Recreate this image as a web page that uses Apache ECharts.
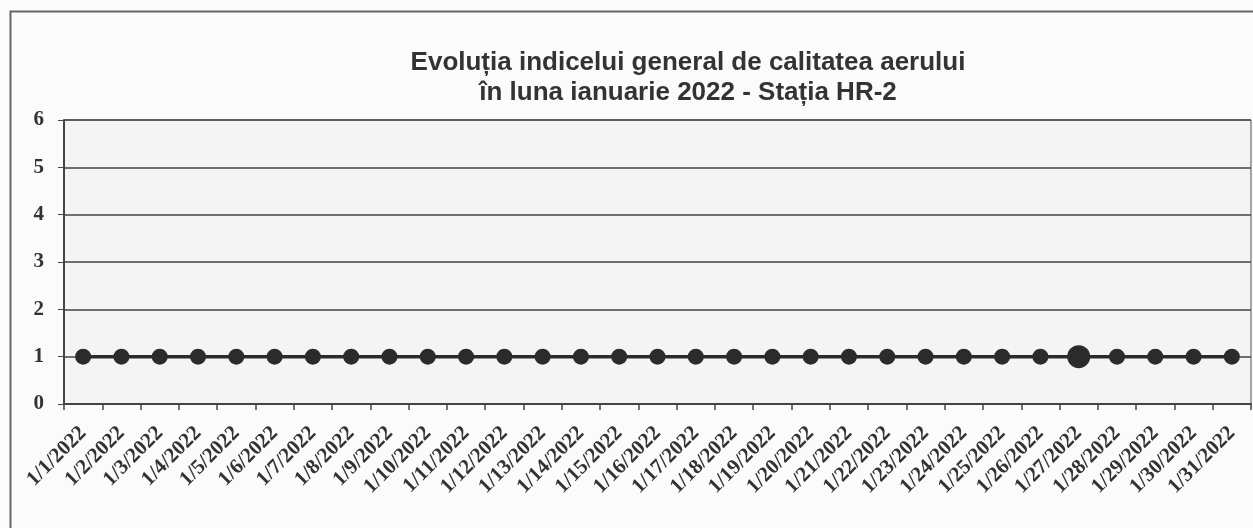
<!DOCTYPE html>
<html><head><meta charset="utf-8">
<script src="https://cdn.jsdelivr.net/npm/echarts@6/dist/echarts.min.js"></script>
<style>html,body{margin:0;padding:0;background:#fbfbfb;}#c{width:1253px;height:528px;}</style>
</head><body><div id="c"></div>
<script>
const titleLines = ['Evoluția indicelui general de calitatea aerului', 'în luna ianuarie 2022 - Stația HR-2'];
const categories = [];
for (let d = 1; d <= 31; d++) categories.push('1/' + d + '/2022');
const values = [1,1,1,1,1,1,1,1,1,1,1,1,1,1,1,1,1,1,1,1,1,1,1,1,1,1,1,1,1,1,1];
const bigPointIndex = 26; // 1/27/2022 marker drawn larger
const yTicks = [0,1,2,3,4,5,6];

const chart = echarts.init(document.getElementById('c'));
chart.setOption({
  backgroundColor: '#fbfbfb',
  animation: false,
  title: {
    text: titleLines.join('\n'),
    left: 688, top: 48, textAlign: 'center', padding: 0,
    textStyle: {fontFamily: 'Liberation Sans, Arial', fontWeight: 'bold', fontSize: 26, color: '#333', lineHeight: 30}
  },
  graphic: [{
    type: 'rect', left: 8, top: 9, z: -1,
    shape: {width: 1270, height: 540},
    style: {fill: 'none', stroke: '#666', lineWidth: 2}
  }],
  grid: {left: 64, right: 2, top: 120, bottom: 124, show: true, backgroundColor: '#f4f4f4', borderColor: '#555', borderWidth: 1},
  xAxis: {
    type: 'category', data: categories, boundaryGap: true,
    axisLine: {lineStyle: {color: '#444', width: 2}},
    axisTick: {show: true, length: 6, lineStyle: {color: '#444', width: 1.5}},
    axisLabel: {rotate: 45, interval: 0, margin: 26, fontFamily: 'Liberation Serif, Times New Roman', fontWeight: 'bold', fontSize: 21, color: '#333'}
  },
  yAxis: {
    type: 'value', min: 0, max: 6, interval: 1,
    axisLine: {show: true, lineStyle: {color: '#444', width: 2}},
    axisTick: {show: true, length: 6, lineStyle: {color: '#444'}},
    splitLine: {lineStyle: {color: '#444', width: 1.5}},
    axisLabel: {margin: 20, fontFamily: 'Liberation Serif, Times New Roman', fontWeight: 'bold', fontSize: 21, color: '#333'}
  },
  series: [{
    type: 'line', data: values.map((v, i) => i === bigPointIndex ? {value: v, symbolSize: 23} : v),
    symbol: 'circle', symbolSize: 16,
    lineStyle: {color: '#2b2b2b', width: 3.5},
    itemStyle: {color: '#2b2b2b'}
  }]
});
</script></body></html>
